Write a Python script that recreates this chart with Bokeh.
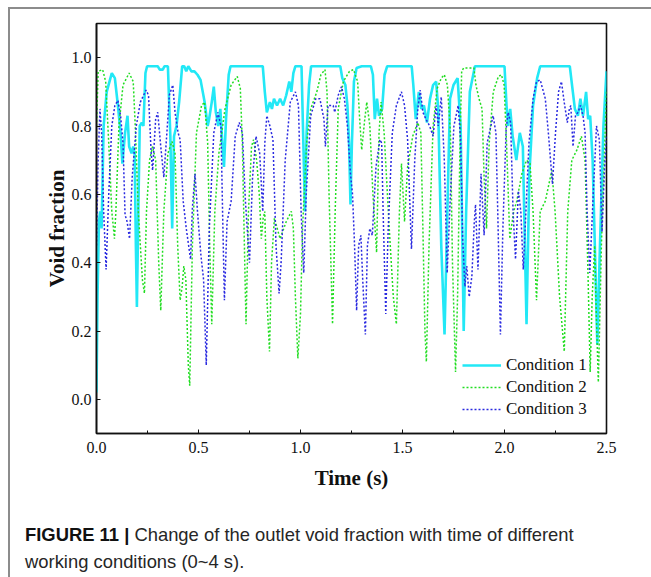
from bokeh.plotting import figure
from bokeh.models import (Range1d, FixedTicker, SingleIntervalTicker, NumeralTickFormatter,
                          Legend, LegendItem, Div)
from bokeh.layouts import column
from bokeh.embed import file_html
from bokeh.resources import INLINE

# ---------------- data ----------------
x_ticks = [0.0, 0.5, 1.0, 1.5, 2.0, 2.5]
y_ticks = [0.0, 0.2, 0.4, 0.6, 0.8, 1.0]
series_names = ["Condition 1", "Condition 2", "Condition 3"]

c1_t = [0.000, 0.005, 0.012, 0.018, 0.025, 0.035, 0.050, 0.075, 0.090, 0.105, 0.118, 0.127,
        0.140, 0.152, 0.160, 0.172, 0.180, 0.187, 0.193, 0.198, 0.205, 0.212, 0.222, 0.230,
        0.240, 0.248, 0.300, 0.310, 0.325, 0.333, 0.350, 0.356, 0.362, 0.371, 0.380, 0.392,
        0.405, 0.420, 0.430, 0.440, 0.450, 0.465, 0.480, 0.495, 0.510, 0.530, 0.545, 0.552,
        0.565, 0.575, 0.585, 0.597, 0.607, 0.617, 0.625, 0.635, 0.648, 0.657, 0.815, 0.825,
        0.835, 0.850, 0.860, 0.870, 0.885, 0.900, 0.915, 0.930, 0.945, 0.955, 0.965, 0.975,
        1.005, 1.012, 1.022, 1.030, 1.042, 1.052, 1.195, 1.205, 1.220, 1.230, 1.238, 1.245,
        1.252, 1.262, 1.275, 1.300, 1.345, 1.355, 1.364, 1.375, 1.385, 1.400, 1.412, 1.425,
        1.545, 1.553, 1.565, 1.580, 1.592, 1.605, 1.620, 1.635, 1.650, 1.665, 1.675, 1.690,
        1.706, 1.718, 1.733, 1.750, 1.770, 1.785, 1.800, 1.812, 1.830, 1.855, 2.000, 2.010,
        2.018, 2.028, 2.040, 2.058, 2.075, 2.090, 2.100, 2.108, 2.122, 2.140, 2.160, 2.175,
        2.320, 2.335, 2.345, 2.360, 2.372, 2.385, 2.400, 2.410, 2.420, 2.432, 2.445, 2.455,
        2.468, 2.485, 2.500]
c1_v = [0.02, 0.30, 0.52, 0.55, 0.50, 0.80, 0.90, 0.955, 0.94, 0.86, 0.78, 0.69,
        0.78, 0.83, 0.74, 0.72, 0.74, 0.72, 0.45, 0.27, 0.55, 0.80, 0.81, 0.80,
        0.955, 0.975, 0.975, 0.965, 0.965, 0.975, 0.975, 0.87, 0.77, 0.50, 0.77, 0.80,
        0.87, 0.975, 0.975, 0.96, 0.975, 0.96, 0.96, 0.95, 0.935, 0.87, 0.80, 0.82,
        0.87, 0.915, 0.84, 0.80, 0.85, 0.75, 0.68, 0.82, 0.95, 0.975, 0.975, 0.90,
        0.84, 0.87, 0.85, 0.88, 0.86, 0.88, 0.86, 0.89, 0.93, 0.90, 0.955, 0.975,
        0.975, 0.80, 0.55, 0.78, 0.92, 0.975, 0.975, 0.94, 0.92, 0.86, 0.75, 0.57,
        0.75, 0.93, 0.97, 0.975, 0.975, 0.95, 0.82, 0.88, 0.83, 0.85, 0.95, 0.975,
        0.975, 0.92, 0.82, 0.90, 0.85, 0.86, 0.81, 0.88, 0.92, 0.93, 0.85, 0.45,
        0.19, 0.50, 0.88, 0.92, 0.94, 0.80, 0.20, 0.55, 0.90, 0.975, 0.975, 0.86,
        0.80, 0.85, 0.77, 0.70, 0.78, 0.74, 0.45, 0.22, 0.66, 0.86, 0.94, 0.975,
        0.975, 0.90, 0.85, 0.83, 0.88, 0.83, 0.90, 0.82, 0.83, 0.70, 0.40, 0.16,
        0.45, 0.80, 0.96]

c2_t = [0.000, 0.008, 0.030, 0.045, 0.060, 0.075, 0.088, 0.095, 0.110, 0.130, 0.160, 0.180,
        0.190, 0.205, 0.225, 0.235, 0.245, 0.260, 0.275, 0.290, 0.305, 0.315, 0.330, 0.350,
        0.370, 0.385, 0.398, 0.410, 0.420, 0.428, 0.438, 0.450, 0.457, 0.470, 0.490, 0.515,
        0.530, 0.545, 0.555, 0.565, 0.580, 0.600, 0.630, 0.660, 0.690, 0.705, 0.715, 0.725,
        0.733, 0.745, 0.760, 0.770, 0.785, 0.798, 0.808, 0.817, 0.825, 0.835, 0.848, 0.858,
        0.872, 0.900, 0.930, 0.955, 0.965, 0.975, 0.987, 1.000, 1.010, 1.030, 1.050, 1.080,
        1.100, 1.120, 1.130, 1.140, 1.157, 1.170, 1.185, 1.210, 1.240, 1.260, 1.280, 1.290,
        1.300, 1.315, 1.325, 1.340, 1.355, 1.373, 1.385, 1.395, 1.410, 1.435, 1.455, 1.470,
        1.485, 1.495, 1.510, 1.525, 1.550, 1.575, 1.590, 1.600, 1.610, 1.617, 1.630, 1.650,
        1.670, 1.690, 1.705, 1.720, 1.735, 1.745, 1.760, 1.770, 1.782, 1.790, 1.800, 1.850,
        1.860, 1.875, 1.890, 1.900, 1.912, 1.925, 1.945, 1.970, 1.985, 1.998, 2.010, 2.026,
        2.045, 2.060, 2.085, 2.108, 2.125, 2.140, 2.157, 2.175, 2.200, 2.232, 2.248, 2.270,
        2.293, 2.310, 2.330, 2.355, 2.377, 2.395, 2.410, 2.420, 2.430, 2.442, 2.450, 2.460,
        2.475, 2.500]
c2_v = [0.80, 0.96, 0.965, 0.93, 0.75, 0.55, 0.47, 0.55, 0.80, 0.92, 0.955, 0.93,
        0.80, 0.55, 0.35, 0.31, 0.55, 0.70, 0.74, 0.70, 0.40, 0.26, 0.55, 0.72,
        0.755, 0.72, 0.45, 0.29, 0.33, 0.39, 0.35, 0.10, 0.04, 0.45, 0.78, 0.86,
        0.87, 0.75, 0.45, 0.22, 0.55, 0.72, 0.85, 0.92, 0.945, 0.91, 0.75, 0.45,
        0.22, 0.55, 0.74, 0.76, 0.70, 0.60, 0.47, 0.53, 0.55, 0.30, 0.14, 0.40,
        0.53, 0.47, 0.52, 0.55, 0.50, 0.30, 0.12, 0.25, 0.50, 0.75, 0.85, 0.90,
        0.95, 0.965, 0.90, 0.60, 0.22, 0.55, 0.85, 0.93, 0.96, 0.965, 0.93, 0.82,
        0.73, 0.82, 0.87, 0.80, 0.60, 0.43, 0.78, 0.87, 0.78, 0.50, 0.30, 0.22,
        0.55, 0.69, 0.52, 0.68, 0.77, 0.81, 0.78, 0.50, 0.20, 0.11, 0.45, 0.80,
        0.91, 0.94, 0.95, 0.92, 0.78, 0.40, 0.08, 0.30, 0.75, 0.96, 0.97, 0.97,
        0.92, 0.88, 0.85, 0.65, 0.50, 0.75, 0.90, 0.945, 0.95, 0.92, 0.75, 0.47,
        0.55, 0.58, 0.66, 0.70, 0.69, 0.55, 0.29, 0.55, 0.58, 0.67, 0.55, 0.30,
        0.14, 0.55, 0.70, 0.73, 0.77, 0.70, 0.35, 0.08, 0.30, 0.45, 0.25, 0.05,
        0.45, 0.90]

c3_t = [0.000, 0.008, 0.017, 0.025, 0.035, 0.047, 0.060, 0.075, 0.090, 0.105, 0.118, 0.130,
        0.140, 0.150, 0.162, 0.175, 0.195, 0.215, 0.243, 0.255, 0.268, 0.275, 0.290, 0.300,
        0.315, 0.330, 0.345, 0.357, 0.374, 0.385, 0.400, 0.410, 0.425, 0.440, 0.461, 0.470,
        0.483, 0.495, 0.512, 0.525, 0.538, 0.553, 0.575, 0.595, 0.610, 0.618, 0.627, 0.640,
        0.660, 0.680, 0.700, 0.715, 0.730, 0.750, 0.765, 0.782, 0.800, 0.815, 0.825, 0.835,
        0.850, 0.865, 0.880, 0.895, 0.905, 0.925, 0.950, 0.975, 0.990, 1.003, 1.016, 1.028,
        1.050, 1.075, 1.095, 1.115, 1.122, 1.135, 1.160, 1.168, 1.185, 1.201, 1.215, 1.230,
        1.245, 1.255, 1.265, 1.275, 1.285, 1.296, 1.305, 1.318, 1.328, 1.340, 1.352, 1.370,
        1.389, 1.398, 1.405, 1.418, 1.430, 1.450, 1.470, 1.495, 1.510, 1.525, 1.544, 1.560,
        1.575, 1.587, 1.600, 1.615, 1.633, 1.650, 1.665, 1.675, 1.690, 1.705, 1.719, 1.735,
        1.752, 1.773, 1.785, 1.795, 1.806, 1.815, 1.827, 1.840, 1.852, 1.858, 1.870, 1.885,
        1.900, 1.915, 1.944, 1.958, 1.968, 1.980, 1.992, 2.008, 2.018, 2.030, 2.042, 2.054,
        2.068, 2.080, 2.092, 2.105, 2.120, 2.140, 2.157, 2.175, 2.200, 2.215, 2.235, 2.250,
        2.265, 2.279, 2.295, 2.308, 2.318, 2.325, 2.336, 2.348, 2.360, 2.372, 2.385, 2.395,
        2.405, 2.418, 2.435, 2.451, 2.465, 2.478, 2.490, 2.500]
c3_v = [0.45, 0.70, 0.85, 0.78, 0.55, 0.38, 0.60, 0.80, 0.86, 0.875, 0.83, 0.75,
        0.54, 0.52, 0.47, 0.65, 0.80, 0.87, 0.905, 0.89, 0.72, 0.67, 0.82, 0.84,
        0.74, 0.65, 0.78, 0.89, 0.92, 0.84, 0.78, 0.76, 0.58, 0.50, 0.41, 0.56,
        0.66, 0.55, 0.42, 0.35, 0.10, 0.50, 0.78, 0.84, 0.80, 0.55, 0.29, 0.52,
        0.58, 0.77, 0.81, 0.78, 0.58, 0.40, 0.65, 0.77, 0.72, 0.55, 0.75, 0.83,
        0.80, 0.76, 0.45, 0.31, 0.40, 0.70, 0.87, 0.90, 0.86, 0.55, 0.37, 0.60,
        0.83, 0.88, 0.88, 0.82, 0.74, 0.86, 0.86, 0.84, 0.89, 0.915, 0.88, 0.80,
        0.66, 0.60, 0.45, 0.26, 0.45, 0.48, 0.35, 0.19, 0.45, 0.50, 0.48, 0.68,
        0.76, 0.75, 0.55, 0.25, 0.50, 0.78, 0.86, 0.90, 0.86, 0.76, 0.44, 0.70,
        0.85, 0.905, 0.84, 0.82, 0.80, 0.77, 0.86, 0.80, 0.885, 0.70, 0.37, 0.60,
        0.80, 0.86, 0.76, 0.47, 0.33, 0.39, 0.30, 0.36, 0.52, 0.57, 0.38, 0.66,
        0.48, 0.75, 0.83, 0.78, 0.52, 0.19, 0.50, 0.79, 0.84, 0.81, 0.55, 0.41,
        0.61, 0.55, 0.38, 0.55, 0.75, 0.88, 0.93, 0.935, 0.88, 0.78, 0.63, 0.78,
        0.90, 0.93, 0.86, 0.81, 0.85, 0.86, 0.74, 0.83, 0.84, 0.86, 0.83, 0.78,
        0.55, 0.37, 0.60, 0.80, 0.76, 0.49, 0.67, 0.77]

# ---------------- figure ----------------
SERIF = "Liberation Serif"

p = figure(width=633, height=490, output_backend="svg", toolbar_location=None,
           x_range=Range1d(0, 2.5), y_range=Range1d(-0.1, 1.1),
           frame_width=510, frame_height=410,
           min_border_left=86, min_border_right=37, min_border_top=14, min_border_bottom=66)
p.background_fill_color = "white"
p.border_fill_color = "white"
p.outline_line_color = "#111111"
p.outline_line_width = 1.6
p.xgrid.visible = False
p.ygrid.visible = False

r1 = p.line(c1_t, c1_v, line_color="#22E8F6", line_width=2.6)
r2 = p.line(c2_t, c2_v, line_color="#22DD22", line_width=1.5, line_dash="2 2")
r3 = p.line(c3_t, c3_v, line_color="#2A2AE0", line_width=1.5, line_dash="2 2")

for ax in (p.xaxis[0], p.yaxis[0]):
    ax.axis_line_color = "#111111"
    ax.axis_line_width = 1.6
    ax.major_tick_line_color = "#111111"
    ax.minor_tick_line_color = "#111111"
    ax.major_tick_in = 4
    ax.major_tick_out = 0
    ax.minor_tick_in = 3
    ax.minor_tick_out = 0
    ax.major_label_text_font = SERIF
    ax.major_label_text_font_size = "16px"
    ax.major_label_text_color = "#111111"
    ax.axis_label_text_font = SERIF
    ax.axis_label_text_font_style = "bold"
    ax.axis_label_text_font_size = "21px"
    ax.axis_label_text_color = "#111111"
    ax.formatter = NumeralTickFormatter(format="0.0")

p.xaxis[0].ticker = SingleIntervalTicker(interval=0.5, num_minor_ticks=2)
p.yaxis[0].ticker = FixedTicker(ticks=y_ticks)
p.xaxis[0].axis_label = "Time (s)"
p.yaxis[0].axis_label = "Void fraction"
p.xaxis[0].major_label_standoff = 8
p.yaxis[0].major_label_standoff = 5
p.xaxis[0].axis_label_standoff = 10
p.yaxis[0].axis_label_standoff = 0

legend = Legend(items=[LegendItem(label=series_names[0], renderers=[r1]),
                       LegendItem(label=series_names[1], renderers=[r2]),
                       LegendItem(label=series_names[2], renderers=[r3])],
                location=(366, 13), border_line_color=None, background_fill_alpha=0,
                padding=0, spacing=0, margin=0, glyph_width=39, glyph_height=22,
                label_height=22, label_standoff=5,
                label_text_font=SERIF, label_text_font_size="17px",
                label_text_color="#111111")
p.add_layout(legend)

caption = Div(text=('<span style="font-weight:bold;color:#111">FIGURE 11 |</span> '
                    'Change of the outlet void fraction with time of different<br>'
                    'working conditions (0~4 s).'),
              width=633,
              styles={"font-family": "Liberation Sans, Arial, sans-serif",
                      "font-size": "18.4px", "line-height": "27px", "color": "#262626",
                      "padding-left": "10px", "padding-top": "17px"})

layout = column(p, caption, styles={"border-left": "2px solid #8c8c8c",
                                    "border-top": "2px solid #8c8c8c",
                                    "margin-left": "8px", "margin-top": "7px"})

open("out.html", "w").write(file_html(layout, INLINE))
